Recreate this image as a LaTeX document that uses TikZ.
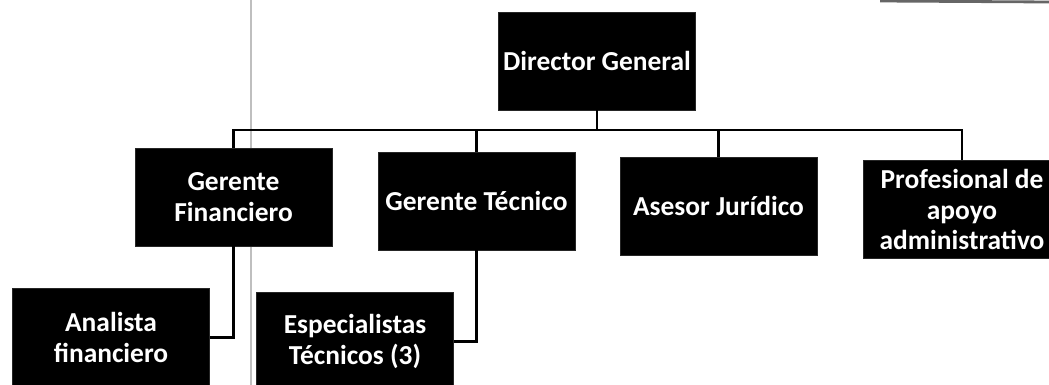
\documentclass[tikz,border=0pt]{standalone}
\usepackage{fontspec}
\setmainfont{Carlito}
\begin{document}
\begin{tikzpicture}[
  x=0.025cm, y=-0.025cm,
  puesto/.style={rectangle, fill=black, draw=black!85, text=white,
                 minimum width=4.925cm, minimum height=2.45cm, align=center,
                 inner sep=2pt, font=\bfseries\fontsize{19.5}{22}\selectfont},
  linea/.style={line width=1.8pt, black},
  marca/.style={line width=0.8pt, black!25},
]
\useasboundingbox (0,0) rectangle (1049,385);

% scan margin lines
\draw[marca] (251,0) -- (251,385);
\draw[marca, black!60, line width=2pt] (880,1) -- (1049,2);

% director
\node[puesto] (dir) at (597, 61) {Director General};

% second level
\node[puesto] (gfin) at (233.5, 197) {Gerente\\Financiero};
\node[puesto] (gtec) at (476.5, 201) {Gerente Técnico};
\node[puesto] (ases) at (718.5, 206) {Asesor Jurídico};
\node[puesto] (prof) at (962, 209.5) {Profesional de\\apoyo\\administrativo};

% third level
\node[puesto] (anal) at (111, 337.5) {Analista\\financiero};
\node[puesto] (espe) at (355, 341.5) {Especialistas\\Técnicos (3)};

% connectors
\coordinate (bus) at (597, 130);
\draw[linea] (dir.south) -- (bus);
\draw[linea] (gfin.north) |- (bus) -| (prof.north);
\draw[linea] (gtec.north) -- (gtec.north |- bus);
\draw[linea] (ases.north) -- (ases.north |- bus);
\draw[linea] (gfin.south) |- (anal.east);
\draw[linea] (gtec.south) |- (espe.east);

\end{tikzpicture}
\end{document}
